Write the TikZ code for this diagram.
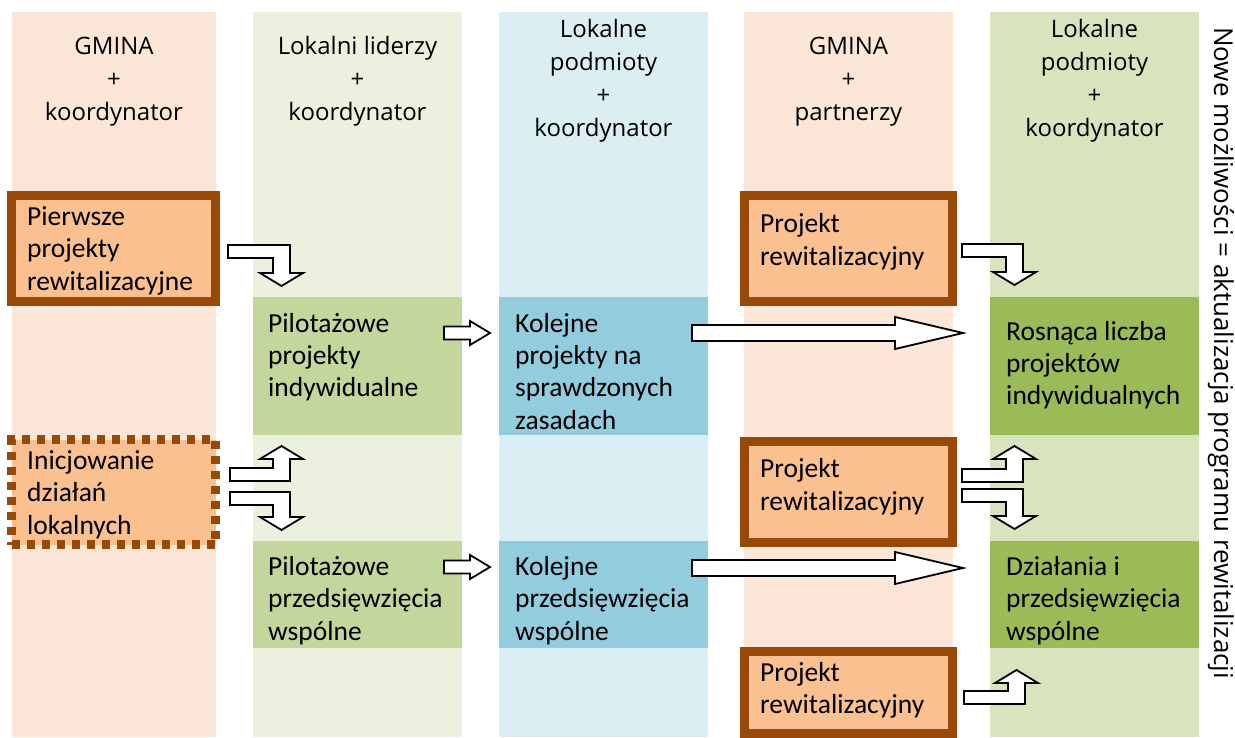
\documentclass[tikz,border=0pt]{standalone}
\usepackage{fontspec}
\setmainfont{Carlito}
\newfontfamily\hdrfont{Open Sans}
\definecolor{peachbg}{HTML}{FCE6D8}
\definecolor{greenbg}{HTML}{EBF1DE}
\definecolor{bluebg}{HTML}{DBEEF4}
\definecolor{greentwobg}{HTML}{D7E4BD}
\definecolor{greenbox}{HTML}{C3D69B}
\definecolor{bluebox}{HTML}{93CDDD}
\definecolor{olivebox}{HTML}{9BBB59}
\definecolor{orangebox}{HTML}{FAC090}
\definecolor{brownline}{HTML}{984807}
\tikzset{
  colbg/.style={inner sep=0pt, outer sep=0pt, anchor=north west, minimum width=#1, minimum height=725pt},
  flatbox/.style={inner sep=0pt, outer sep=0pt, anchor=north west, minimum width=209pt},
  orbox/.style={draw=brownline, line width=9pt, fill=orangebox, inner sep=0pt, outer sep=0pt, anchor=north west},
  dotbox/.style={orbox, dash pattern=on 8pt off 7pt},
  hdr/.style={font=\hdrfont\fontsize{24}{33}\selectfont, text width=205pt, align=flush center, anchor=base, inner sep=0pt},
  btxt/.style={font=\fontsize{27.5}{32.5}\selectfont, text width=230pt, align=flush left, anchor=base west, inner sep=0pt},
  barrow/.style={draw=black, fill=white, line width=1.8pt, line join=miter},
}
\newcommand\arrowRD[4]{% bar left x, stem left x, bar top y, head base y
  \draw[barrow] (#1,#3) -- (#2+17,#3) -- (#2+17,#4) -- (#2+30,#4) -- (#2+8.5,#4+13) -- (#2-13,#4) -- (#2,#4) -- (#2,#3+13) -- (#1,#3+13) -- cycle;}
\newcommand\arrowRU[4]{% bar left x, stem left x, bar bottom y, head base y
  \draw[barrow] (#1,#3) -- (#2+17,#3) -- (#2+17,#4) -- (#2+30,#4) -- (#2+8.5,#4-13) -- (#2-13,#4) -- (#2,#4) -- (#2,#3-13) -- (#1,#3-13) -- cycle;}
\begin{document}
\begin{tikzpicture}[x=1pt,y=-1pt]
\useasboundingbox (0,0) rectangle (1235,738);
% column backgrounds
\node[colbg=204pt, fill=peachbg] (c1) at (12,12) {};
\node[colbg=209pt, fill=greenbg] (c2) at (253,12) {};
\node[colbg=209pt, fill=bluebg] (c3) at (499,12) {};
\node[colbg=209pt, fill=peachbg] (c4) at (744,12) {};
\node[colbg=209pt, fill=greentwobg] (c5) at (990,12) {};
% headers
\node[hdr] (h1) at (114,55) {GMINA\\+\\koordynator};
\node[hdr] (h2) at (357.5,55) {Lokalni liderzy\\+\\koordynator};
\node[hdr] (h3) at (603.5,37.5) {Lokalne\\podmioty\\+\\koordynator};
\node[hdr] (h4) at (848.5,55) {GMINA\\+\\partnerzy};
\node[hdr] (h5) at (1094.5,37.5) {Lokalne\\podmioty\\+\\koordynator};
% flat boxes
\node[flatbox, fill=greenbox, minimum height=138pt] (g1) at (253,297) {};
\node[flatbox, fill=greenbox, minimum height=107pt] (g2) at (253,541) {};
\node[flatbox, fill=bluebox, minimum height=138pt] (b1) at (499,297) {};
\node[flatbox, fill=bluebox, minimum height=107pt] (b2) at (499,541) {};
\node[flatbox, fill=olivebox, minimum height=138pt] (o1) at (990,297) {};
\node[flatbox, fill=olivebox, minimum height=107pt] (o2) at (990,541) {};
% orange boxes
\node[orbox, minimum width=204pt, minimum height=106pt] (p1) at (11.5,195.5) {};
\node[dotbox, minimum width=204pt, minimum height=105pt] (p2) at (11.5,439.5) {};
\node[orbox, minimum width=208pt, minimum height=106pt] (r1) at (744.5,195.5) {};
\node[orbox, minimum width=208pt, minimum height=101pt] (r2) at (744.5,441.5) {};
\node[orbox, minimum width=208pt, minimum height=82pt] (r3) at (744.5,651.5) {};
% box texts
\node[btxt] (t1) at (27,225.5) {Pierwsze\\projekty\\rewitalizacyjne};
\node[btxt] (t2) at (27,469) {Inicjowanie\\działań\\lokalnych};
\node[btxt] (t3) at (268,332) {Pilotażowe\\projekty\\indywidualne};
\node[btxt] (t4) at (268,575) {Pilotażowe\\przedsięwzięcia\\wspólne};
\node[btxt] (t5) at (515,332) {Kolejne\\projekty na\\sprawdzonych\\zasadach};
\node[btxt] (t6) at (515,575) {Kolejne\\przedsięwzięcia\\wspólne};
\node[btxt] (t7) at (760,233) {Projekt\\rewitalizacyjny};
\node[btxt] (t8) at (760,477.5) {Projekt\\rewitalizacyjny};
\node[btxt] (t9) at (760,681) {Projekt\\rewitalizacyjny};
\node[btxt] (t10) at (1006,340) {Rosnąca liczba\\projektów\\indywidualnych};
\node[btxt] (t11) at (1006,575) {Działania i\\przedsięwzięcia\\wspólne};
% side text
\node[font=\hdrfont\fontsize{26}{30}\selectfont, rotate=-90, anchor=base west, inner sep=0pt] (side) at (1214,27) {Nowe możliwości = aktualizacja programu rewitalizacji};
% straight block arrows
\draw[barrow] (444,326.5) -- (470,326.5) -- (470,321) -- (490,333) -- (470,345) -- (470,339.5) -- (444,339.5) -- cycle;
\draw[barrow] (444,560.5) -- (470,560.5) -- (470,555) -- (490,567) -- (470,579) -- (470,573.5) -- (444,573.5) -- cycle;
\draw[barrow] (692,325) -- (895,325) -- (895,317) -- (963,333) -- (895,349) -- (895,341) -- (692,341) -- cycle;
\draw[barrow] (692,560) -- (895,560) -- (895,552) -- (963,568) -- (895,584) -- (895,576) -- (692,576) -- cycle;
% bent block arrows
\arrowRD{228}{273}{245}{273}
\arrowRU{230}{273}{481}{459}
\arrowRD{230}{273}{492}{517}
\arrowRD{962}{1006}{244}{272}
\arrowRU{962}{1006}{482}{459}
\arrowRD{962}{1006}{489}{516}
\arrowRU{964}{1008}{704}{683}
\end{tikzpicture}
\end{document}
